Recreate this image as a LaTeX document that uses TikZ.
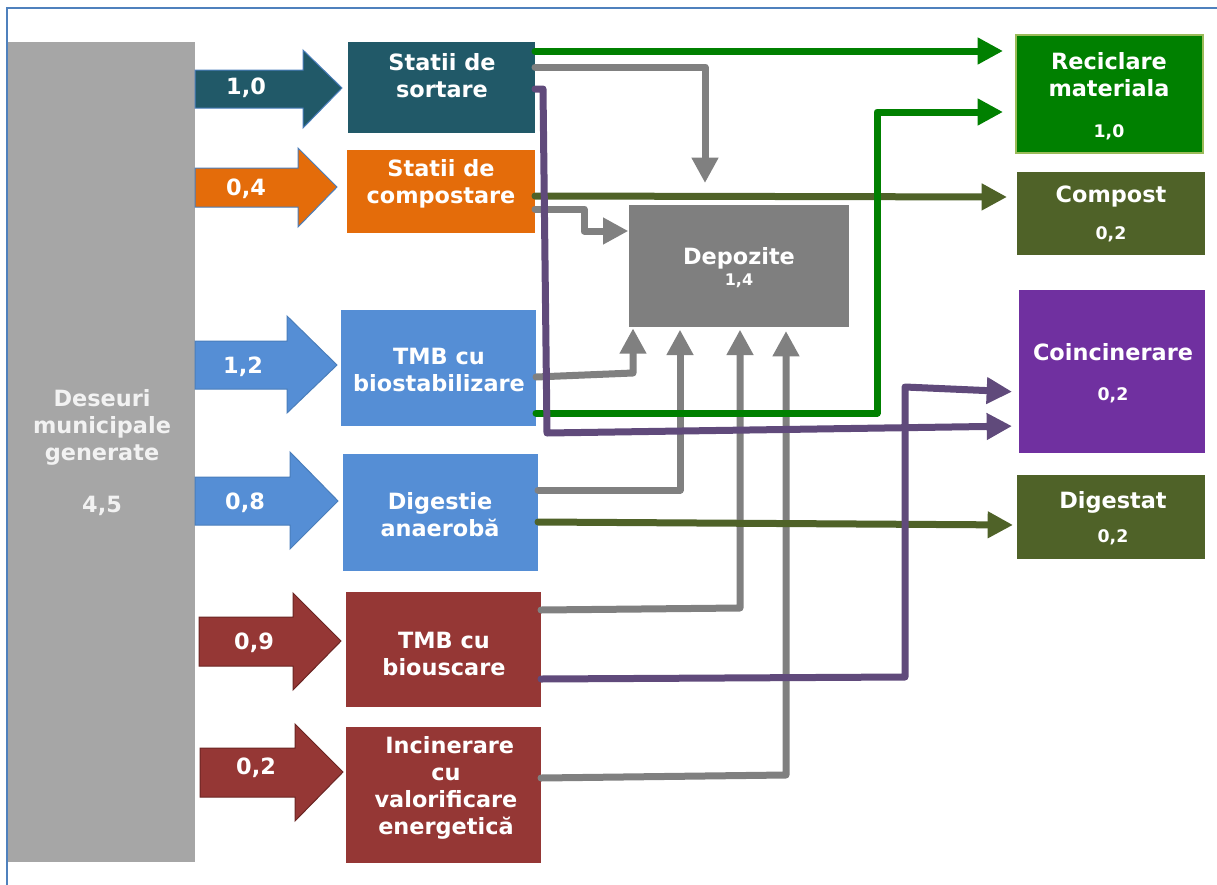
\documentclass[tikz,border=0pt]{standalone}
\usepackage{fontspec}
\setmainfont{DejaVu Sans}
\usetikzlibrary{arrows.meta}
\definecolor{frameblue}{HTML}{4F81BD}
\definecolor{barg}{HTML}{A6A6A6}
\definecolor{teal}{HTML}{215968}
\definecolor{orng}{HTML}{E46C0A}
\definecolor{lblue}{HTML}{558ED5}
\definecolor{dred}{HTML}{953735}
\definecolor{grn}{HTML}{008000}
\definecolor{olive}{HTML}{4F6228}
\definecolor{purp}{HTML}{7030A0}
\definecolor{purline}{HTML}{604A7B}
\definecolor{gline}{HTML}{808080}
\definecolor{depog}{HTML}{7F7F7F}
\definecolor{recborder}{HTML}{9BBB59}
\definecolor{arrowline}{HTML}{4A7EBB}
\definecolor{redline}{HTML}{6B2523}
\newcommand\bx[6]{\node[#6,anchor=north west,minimum width={(#4-#2)*0.75pt},minimum height={(#5-#3)*0.75pt},inner sep=0pt,outer sep=0pt] (#1) at (#2,#3) {};}
\tikzset{
  txt/.style={text=white,align=center,inner sep=0pt,font=\bfseries\fontsize{16.8}{20.3}\selectfont},
  small/.style={text=white,align=center,inner sep=0pt,font=\bfseries\fontsize{13}{15}\selectfont},
  conn/.style={line width=5.25pt,line cap=round,line join=round,-{Triangle[length=19pt,width=19pt]}},
  grayc/.style={conn,draw=gline},
  greenc/.style={conn,draw=grn},
  olivec/.style={conn,draw=olive},
  purc/.style={conn,draw=purline},
  barrowb/.style={draw=arrowline,line width=0.75pt},
  barrowr/.style={draw=redline,line width=0.75pt}
}
\begin{document}
\begin{tikzpicture}[x=0.75pt,y=-0.75pt]
\useasboundingbox (0,0) rectangle (1217,885);
\fill[white] (0,0) rectangle (1217,885);
% frame
\draw[frameblue,line width=1.5pt] (1217,8) -- (7,8) -- (7,885);

% boxes
\bx{bar}{8}{42}{195}{862}{fill=barg}
\bx{sort}{348}{42}{535}{133}{fill=teal}
\bx{comp}{347}{150}{535}{233}{fill=orng}
\bx{bios}{341}{310}{536}{426}{fill=lblue}
\bx{dige}{343}{454}{538}{571}{fill=lblue}
\bx{biou}{346}{592}{541}{707}{fill=dred}
\bx{inci}{346}{727}{541}{863}{fill=dred}
\bx{depo}{629}{205}{849}{327}{fill=depog}
\bx{recic}{1016}{35}{1203}{153}{fill=grn,draw=recborder,line width=1.2pt}
\bx{compo}{1017}{172}{1205}{255}{fill=olive}
\bx{coinc}{1019}{290}{1205}{453}{fill=purp}
\bx{diges}{1017}{475}{1205}{559}{fill=olive}

% block arrows
\filldraw[fill=teal,barrowb] (195,70) -- (303,70) -- (303,50) -- (342,88) -- (303,128) -- (303,108) -- (195,108) -- cycle;
\filldraw[fill=orng,barrowb] (195,168) -- (298,168) -- (298,148) -- (337,187) -- (298,227) -- (298,207) -- (195,207) -- cycle;
\filldraw[fill=lblue,barrowb] (195,341) -- (287,341) -- (287,316) -- (337,365) -- (287,413) -- (287,389) -- (195,389) -- cycle;
\filldraw[fill=lblue,barrowb] (195,477) -- (290,477) -- (290,452) -- (338,501) -- (290,549) -- (290,525) -- (195,525) -- cycle;
\filldraw[fill=dred,barrowr] (199,617) -- (293,617) -- (293,593) -- (341,641) -- (293,690) -- (293,666) -- (199,666) -- cycle;
\filldraw[fill=dred,barrowr] (200,748) -- (295,748) -- (295,724) -- (343,772) -- (295,821) -- (295,797) -- (200,797) -- cycle;

% arrow labels
\node[txt] (a1) at (246,88) {1,0};
\node[txt] (a2) at (246,189) {0,4};
\node[txt] (a3) at (243,367) {1,2};
\node[txt] (a4) at (245,503) {0,8};
\node[txt] (a5) at (254,643) {0,9};
\node[txt] (a6) at (256,768) {0,2};

% texts
\node[txt,text=white!95!black] (barT) at (102,427) {Deseuri\\municipale\\generate};
\node[txt,text=white!95!black] (barN) at (102,506) {4,5};
\node[txt] (sortT) at (442,76) {Statii de\\sortare};
\node[txt] (compT) at (441,184) {Statii de\\compostare};
\node[txt] (biosT) at (439,370) {TMB cu\\biostabilizare};
\node[txt] (digeT) at (440,515) {Digestie\\anaerobă};
\node[txt] (biouT) at (444,654) {TMB cu\\biouscare};
\node[txt,align=center] (inciT) at (446,788) {\,\,Incinerare\\cu\\valorificare\\energetică};
\node[txt] (depoT) at (739,258) {Depozite};
\node[small,font=\bfseries\fontsize{12}{14}\selectfont] (depoN) at (739,281) {1,4};
\node[txt] (recicT) at (1109,75) {Reciclare\\materiala};
\node[small] (recicN) at (1109,132) {1,0};
\node[txt] (compoT) at (1111,197) {Compost};
\node[small] (compoN) at (1111,234) {0,2};
\node[txt] (coincT) at (1113,352) {Coincinerare};
\node[small] (coincN) at (1113,395) {0,2};
\node[txt] (digesT) at (1113,502) {Digestat};
\node[small] (digesN) at (1113,537) {0,2};

% connectors: gray
\draw[grayc,shorten >=16.5pt] (sort.east |- 0,67) -- (705,67) -- (705,0 |- depo.north);
\draw[grayc,shorten >=0.5pt] (comp.east |- 0,209) -- (584,209) -- (584,231) -- (depo.west |- 0,231);
\draw[grayc,shorten >=1pt] (bios.east |- 0,377) -- (633,373) -- (633,0 |- depo.south);
\draw[grayc,shorten >=2pt] (dige.east |- 0,490) -- (680,490) -- (680,0 |- depo.south);
\draw[grayc,shorten >=2pt] (biou.east |- 0,610) -- (740,608) -- (740,0 |- depo.south);
\draw[grayc,shorten >=3pt] (inci.east |- 0,778) -- (786,775) -- (786,0 |- depo.south);
% olive
\draw[olivec,shorten >=7.5pt] (comp.east |- 0,196) -- (compo.west |- 0,197);
\draw[olivec,shorten >=3pt] (dige.east |- 0,522) -- (diges.west |- 0,525);
% green
\draw[greenc,shorten >=9.75pt] (sort.east |- 0,51) -- (recic.west |- 0,51);
\draw[greenc,shorten >=9.75pt] (bios.east |- 0,413) -- (877,413) -- (877,112) -- (recic.west |- 0,112);
% purple
\draw[purc,shorten >=5.25pt] (sort.east |- 0,89) -- (543,89) -- (547,433) -- (coinc.west |- 0,426);
\draw[purc,shorten >=5.25pt] (biou.east |- 0,679) -- (905,677) -- (905,387) -- (coinc.west |- 0,392);
\end{tikzpicture}
\end{document}
